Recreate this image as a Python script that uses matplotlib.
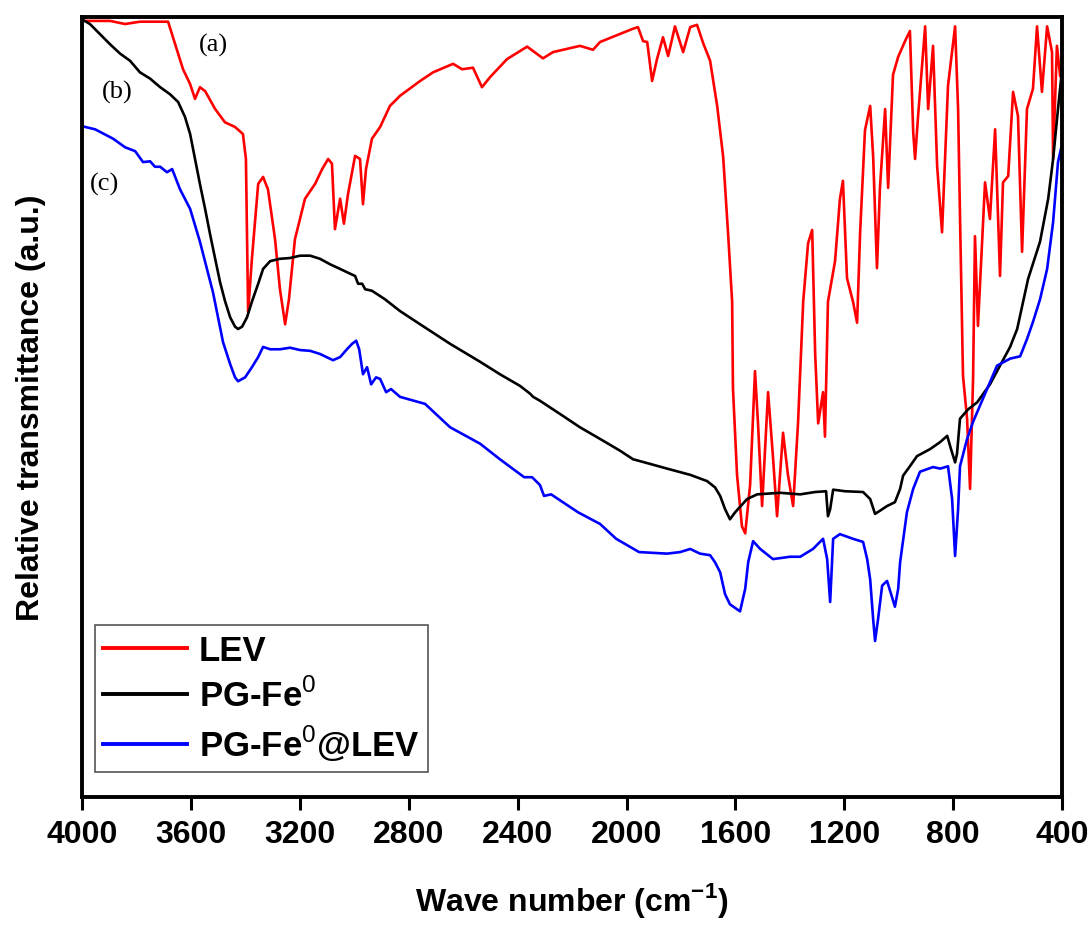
import matplotlib
matplotlib.use('Agg')
import matplotlib.pyplot as plt

plt.rcParams['font.family'] = ['Liberation Sans', 'DejaVu Sans']
plt.rcParams['mathtext.fontset'] = 'custom'
plt.rcParams['mathtext.rm'] = 'Liberation Sans'
plt.rcParams['mathtext.bf'] = 'Liberation Sans:bold'

# FTIR spectra: wave number (cm-1) and relative transmittance (arb. scale 0-100)
lev_wn = [4000, 3897, 3842, 3787, 3684, 3658, 3629, 3603, 3585, 3567, 3548, 3511, 3475,
          3438, 3409, 3398, 3390, 3376, 3353, 3335, 3317, 3291, 3273, 3254, 3240, 3218,
          3181, 3144, 3118, 3096, 3082, 3071, 3052, 3038, 3023, 2997, 2979, 2968, 2957,
          2935, 2905, 2869, 2832, 2758, 2711, 2637, 2604, 2564, 2531, 2501, 2439, 2365,
          2307, 2270, 2171, 2123, 2097, 1976, 1958, 1939, 1924, 1906, 1888, 1866, 1847,
          1822, 1792, 1766, 1741, 1719, 1693, 1667, 1645, 1627, 1612, 1609, 1594, 1576,
          1564, 1546, 1528, 1517, 1502, 1480, 1462, 1447, 1425, 1407, 1388, 1370, 1351,
          1333, 1318, 1307, 1296, 1278, 1271, 1260, 1234, 1216, 1205, 1190, 1168, 1153,
          1142, 1124, 1105, 1094, 1080, 1069, 1050, 1039, 1021, 1002, 977, 959, 947, 940,
          929, 903, 892, 874, 859, 841, 819, 793, 782, 775, 764, 749, 738, 727, 720, 709,
          683, 665, 646, 628, 617, 598, 580, 562, 547, 529, 507, 492, 474, 455, 437, 433,
          419, 407, 400]
lev_t = [99.5, 99.5, 99.1, 99.4, 99.4, 96.5, 93.3, 91.4, 89.5, 91.0, 90.5, 88.2, 86.5,
         85.9, 85.0, 81.8, 62.2, 69.0, 78.6, 79.5, 77.9, 71.5, 65.1, 60.6, 63.8, 71.5,
         76.7, 78.6, 80.5, 81.8, 81.2, 72.8, 76.7, 73.5, 77.3, 82.2, 81.8, 76.0, 80.5,
         84.4, 85.9, 88.6, 89.9, 91.8, 92.9, 94.0, 93.3, 93.5, 91.0, 92.3, 94.6, 96.2,
         94.7, 95.5, 96.3, 95.8, 96.8, 98.5, 98.7, 96.9, 96.8, 91.8, 94.6, 97.4, 95.0,
         98.8, 95.5, 98.7, 99.0, 96.7, 94.4, 88.6, 82.1, 72.3, 63.5, 52.4, 41.3, 34.7,
         33.8, 40.0, 54.6, 47.9, 37.3, 51.9, 43.6, 36.0, 46.7, 41.3, 37.3, 47.9, 63.5,
         71.0, 72.7, 56.8, 47.9, 51.9, 46.2, 63.5, 68.7, 76.7, 79.0, 66.5, 63.5, 60.8,
         72.3, 85.5, 88.6, 82.1, 67.8, 78.1, 88.2, 78.1, 92.6, 94.9, 96.9, 98.2, 85.3, 81.8,
         87.3, 98.8, 88.2, 96.3, 80.9, 72.4, 91.2, 98.8, 88.2, 74.5, 54.0, 48.5, 39.5, 53.6,
         71.9, 60.4, 78.8, 74.1, 85.6, 66.8, 78.8, 79.6, 90.4, 87.3, 69.9, 88.2, 90.8,
         98.8, 90.4, 98.8, 95.5, 81.8, 96.3, 92.4, 94.0]

pgfe_wn = [4000, 3971, 3934, 3897, 3860, 3824, 3787, 3750, 3713, 3677, 3647, 3622, 3603,
           3585, 3567, 3548, 3530, 3511, 3493, 3475, 3456, 3438, 3427, 3412, 3394, 3376,
           3353, 3335, 3309, 3273, 3236, 3199, 3162, 3126, 3089, 3052, 3016, 2997, 2986,
           2971, 2960, 2935, 2913, 2887, 2832, 2758, 2648, 2538, 2465, 2391, 2354, 2343,
           2318, 2244, 2171, 2097, 2024, 1976, 1913, 1851, 1766, 1704, 1675, 1656, 1638,
           1620, 1601, 1583, 1557, 1520, 1436, 1362, 1307, 1267, 1260, 1252, 1241, 1197,
           1131, 1105, 1087, 1069, 1043, 1014, 995, 984, 959, 933, 885, 848, 822, 808, 793,
           786, 775, 745, 712, 665, 628, 591, 565, 525, 481, 451, 433, 415, 400]
pgfe_t = [99.7, 99.1, 97.8, 96.5, 95.3, 94.4, 92.9, 92.1, 91.0, 90.1, 89.1, 87.2, 85.0,
          81.8, 78.6, 75.4, 72.2, 69.0, 66.0, 63.6, 61.5, 60.3, 60.0, 60.3, 61.5, 63.5,
          65.8, 67.7, 68.7, 69.0, 69.1, 69.4, 69.4, 69.0, 68.3, 67.7, 67.1, 66.8, 65.8,
          65.8, 65.1, 64.9, 64.4, 63.8, 62.3, 60.6, 58.1, 55.8, 54.2, 52.7, 51.7, 51.3,
          50.8, 49.1, 47.4, 45.9, 44.4, 43.3, 42.7, 42.1, 41.3, 40.5, 39.7, 38.6, 36.9,
          35.6, 36.5, 37.2, 38.2, 38.8, 39.0, 38.8, 39.1, 39.2, 36.0, 36.9, 39.4, 39.2,
          39.1, 38.2, 36.3, 36.7, 37.3, 37.8, 39.5, 41.2, 42.4, 43.7, 44.6, 45.5, 46.3,
          44.6, 42.9, 44.0, 48.5, 49.7, 50.6, 52.9, 55.3, 57.7, 60.0, 66.4, 71.2, 76.7,
          81.8, 88.2, 93.3]

pgfe_lev_wn = [4000, 3952, 3886, 3842, 3805, 3776, 3750, 3732, 3713, 3688, 3669, 3640,
               3603, 3567, 3519, 3482, 3456, 3438, 3427, 3401, 3376, 3353, 3335, 3309,
               3273, 3236, 3199, 3162, 3126, 3078, 3052, 3027, 3008, 2993, 2982, 2968,
               2953, 2938, 2920, 2905, 2883, 2865, 2832, 2740, 2648, 2538, 2465, 2376,
               2347, 2318, 2303, 2277, 2178, 2097, 2038, 1954, 1851, 1803, 1766, 1730,
               1693, 1675, 1656, 1638, 1620, 1583, 1564, 1553, 1535, 1509, 1462, 1399,
               1362, 1315, 1278, 1263, 1252, 1241, 1216, 1168, 1131, 1116, 1105, 1094,
               1087, 1076, 1061, 1043, 1028, 1014, 1002, 995, 970, 947, 922, 874, 848, 819,
               804, 793, 782, 775, 749, 727, 683, 639, 591, 554, 529, 507, 481, 455, 433,
               415, 404]
pgfe_lev_t = [86.0, 85.6, 84.4, 83.3, 82.8, 81.4, 81.5, 80.8, 80.8, 80.1, 80.5, 77.9,
              75.4, 71.2, 64.7, 58.3, 55.5, 53.8, 53.3, 53.8, 55.1, 56.4, 57.7, 57.4,
              57.4, 57.6, 57.3, 57.2, 56.8, 56.0, 56.4, 57.4, 58.1, 58.5, 57.4, 54.2,
              55.1, 52.9, 53.8, 53.6, 51.9, 52.3, 51.3, 50.4, 47.4, 45.3, 43.3, 41.0,
              41.0, 40.0, 38.6, 38.8, 36.5, 35.0, 33.1, 31.4, 31.2, 31.4, 31.8, 31.2,
              31.0, 30.1, 28.8, 26.0, 24.7, 23.8, 26.7, 30.1, 32.8, 31.8, 30.5, 30.8,
              30.8, 31.8, 33.1, 30.5, 25.0, 33.1, 33.7, 33.1, 32.7, 30.5, 27.9, 22.8,
              20.0, 22.8, 27.1, 27.7, 26.0, 24.4, 26.7, 30.1, 36.5, 39.5, 41.7, 42.3, 42.1,
              42.4, 38.2, 30.9, 36.9, 42.4, 45.9, 48.1, 51.7, 55.3, 56.2, 56.5, 58.7, 60.9,
              63.8, 67.7, 73.7, 81.4, 83.1]

series_names = ['LEV', 'PG-Fe$^{0}$', 'PG-Fe$^{0}$@LEV']
series_colors = ['#ff0000', '#000000', '#0000ff']
curve_tags = ['(a)', '(b)', '(c)']
tag_wn = [3519, 3871, 3916]
tag_t = [96.5, 90.5, 78.6]

fig = plt.figure(figsize=(10.91, 9.28), dpi=100)
ax = fig.add_axes([0.0752, 0.1401, 0.8983, 0.8405])

for wn, t, name, col in zip([lev_wn, pgfe_wn, pgfe_lev_wn],
                            [lev_t, pgfe_t, pgfe_lev_t],
                            series_names, series_colors):
    ax.plot(wn, t, color=col, lw=1.9, label=name)

for tag, x, y in zip(curve_tags, tag_wn, tag_t):
    ax.text(x, y, tag, fontsize=19, family='Liberation Serif', ha='center', va='center')

ax.set_xlim(4000, 400)
ax.set_ylim(0, 100)
ax.set_xticks([4000, 3600, 3200, 2800, 2400, 2000, 1600, 1200, 800, 400])
ax.set_yticks([])
ax.tick_params(axis='x', direction='out', length=9, width=2.2, pad=7,
               labelsize=23)
for lab in ax.get_xticklabels():
    lab.set_fontweight('bold')
for sp in ax.spines.values():
    sp.set_linewidth(2.8)

ax.set_xlabel(r'Wave number (cm$^{\mathbf{-1}}$)', fontsize=23, fontweight='bold', labelpad=22)
ax.set_ylabel('Relative transmittance (a.u.)', fontsize=23, fontweight='bold', labelpad=26)

leg = ax.legend(loc='lower left', bbox_to_anchor=(0.013, 0.032), borderaxespad=0,
                prop={'size': 25, 'weight': 'bold'}, handlelength=2.4,
                labelspacing=0.3, fancybox=False, edgecolor='#555555',
                framealpha=1, borderpad=0.25, handletextpad=0.35)
leg.get_frame().set_linewidth(1.2)
for line in leg.get_lines():
    line.set_linewidth(2.8)

fig.savefig('out.png', dpi=100)
